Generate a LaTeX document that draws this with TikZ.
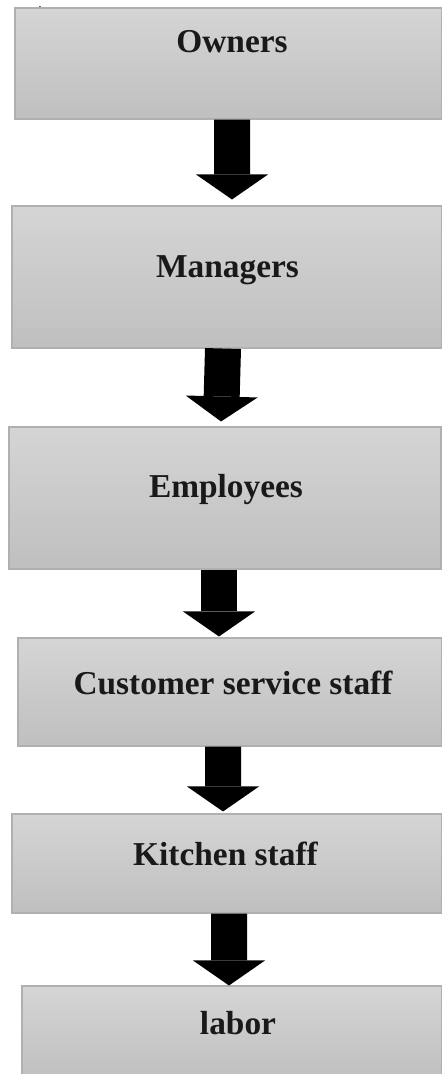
\documentclass[tikz,border=0pt]{standalone}
\usepackage{fontspec}
\setmainfont{Liberation Serif}
\usetikzlibrary{arrows.meta}

\begin{document}
\begin{tikzpicture}[box/.style={rectangle, draw=gray!62, line width=0.6pt, top color=gray!33, bottom color=gray!50, inner sep=0pt,
        path picture={\draw[gray!75, line width=1.4pt] (path picture bounding box.north west) -- (path picture bounding box.south west);}},
    boxtext/.style={font=\fontsize{19}{22}\selectfont\bfseries, text=black!90},
    bigarrow/.style={line width=0.72cm, -{Triangle[length=0.5cm, width=1.44cm, line width=0pt]}}]
            \useasboundingbox (0,0) rectangle (8.84,-21.48);

            \node (dot) at (0.80,-0.17) [anchor=base, font=\fontsize{10}{12}\selectfont, inner sep=0pt] {.};

            \node (owners) at (4.57,-1.27) [box, minimum width=8.54cm, minimum height=2.22cm,
                label={[boxtext, xshift=0.07cm, yshift=0.43cm]center:Owners}] {};
            \node (managers) at (4.54,-5.54) [box, minimum width=8.60cm, minimum height=2.84cm,
                label={[boxtext, xshift=0.01cm, yshift=0.14cm]center:Managers}] {};
            \node (employees) at (4.50,-9.96) [box, minimum width=8.64cm, minimum height=2.84cm,
                label={[boxtext, xshift=0.02cm, yshift=0.16cm]center:Employees}] {};
            \node (service) at (4.60,-13.84) [box, minimum width=8.48cm, minimum height=2.16cm,
                label={[boxtext, xshift=0.06cm, yshift=0.18cm]center:Customer service staff}] {};
            \node (kitchen) at (4.54,-17.27) [box, minimum width=8.60cm, minimum height=1.98cm,
                label={[boxtext, xshift=-0.03cm, yshift=0.19cm]center:Kitchen staff}] {};
            \node (labor) at (4.64,-20.66) [box, minimum width=8.40cm, minimum height=1.88cm,
                label={[boxtext, xshift=0.12cm, yshift=0.20cm]center:labor}] {};

            \draw[bigarrow] ([xshift=0.07cm]owners.south) -- ([xshift=0.10cm, yshift=0.12cm]managers.north);
            \draw[bigarrow] ([xshift=-0.08cm]managers.south) -- ([xshift=-0.08cm, yshift=0.10cm]employees.north);
            \draw[bigarrow] ([xshift=-0.12cm]employees.south) -- ([xshift=-0.22cm, yshift=0.02cm]service.north);
            \draw[bigarrow] ([xshift=-0.14cm]service.south) -- ([xshift=-0.08cm, yshift=0.04cm]kitchen.north);
            \draw[bigarrow] ([xshift=0.04cm]kitchen.south) -- ([xshift=-0.06cm]labor.north);
        \end{tikzpicture}
\end{document}
